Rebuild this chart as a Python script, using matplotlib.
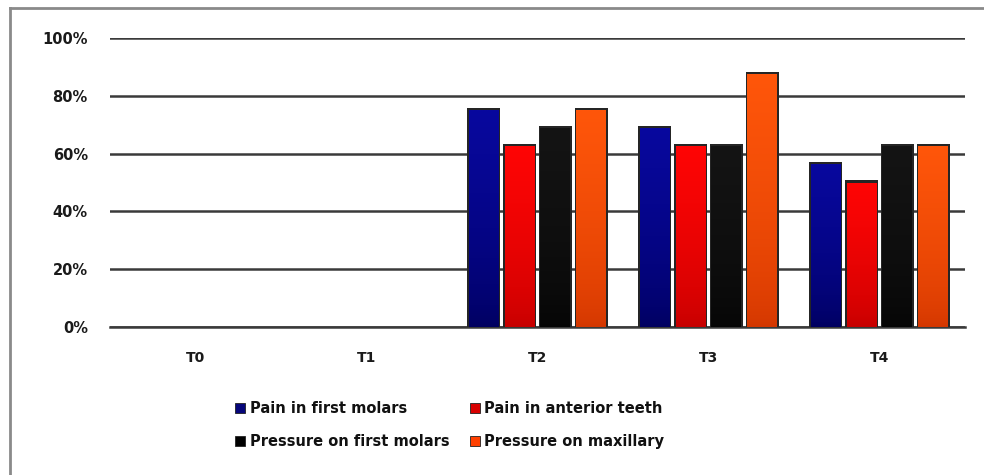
import numpy as np
import matplotlib
matplotlib.use("Agg")
import matplotlib.pyplot as plt
from matplotlib.colors import LinearSegmentedColormap
from matplotlib.patches import Rectangle
from matplotlib.lines import Line2D

categories = ["T0", "T1", "T2", "T3", "T4"]
series_names = ["Pain in first molars", "Pain in anterior teeth",
                "Pressure on first molars", "Pressure on maxillary"]
pain_first_molars = [0, 0, 75.0, 68.75, 56.25]
pain_anterior = [0, 0, 62.5, 62.5, 50.0]
pressure_first_molars = [0, 0, 68.75, 62.5, 62.5]
pressure_maxillary = [0, 0, 75.0, 87.5, 62.5]
yticks = [0, 20, 40, 60, 80, 100]

series = [pain_first_molars, pain_anterior, pressure_first_molars, pressure_maxillary]
# (top colour, bottom colour) for the vertical gradient of each series
grads = [("#08089e", "#00005e"), ("#ff0505", "#c40000"),
         ("#141414", "#050505"), ("#ff560a", "#d23600")]
legend_colors = ["#06067a", "#d80000", "#000000", "#ff4000"]

fig = plt.figure(figsize=(9.84, 4.75), dpi=100)
ax = fig.add_axes([110/984, 1-327/475, 855/984, 289/475])

x = np.arange(len(categories))
bw = 0.175
step = 0.21
offsets = (np.arange(4) - 1.5) * step

grad = np.linspace(0, 1, 256).reshape(-1, 1) ** 0.6
for i, vals in enumerate(series):
    cmap = LinearSegmentedColormap.from_list(f"g{i}", [grads[i][1], grads[i][0]])
    for xi, v in zip(x, vals):
        if v <= 0:
            continue
        left = xi + offsets[i] - bw/2
        # dark shadow outline
        shadow = Rectangle((left - 0.007, 0), bw + 0.014, v + 0.7,
                           facecolor="#252525", edgecolor="none", zorder=3)
        ax.add_patch(shadow)
        bar = ax.bar(xi + offsets[i], v, width=bw, color=grads[i][0],
                     edgecolor="none", zorder=4)[0]
        im = ax.imshow(grad, extent=(left, left + bw, 0, v), origin="lower",
                       cmap=cmap, aspect="auto", zorder=5,
                       interpolation="bilinear", vmin=0, vmax=1)
        im.set_clip_path(bar)

ax.set_xlim(-0.5, len(categories) - 0.5)
ax.set_ylim(0, 100)
ax.set_yticks(yticks)
ax.set_yticklabels([f"{t}%" for t in yticks])
ax.set_xticks(x)
ax.set_xticklabels(categories)
ax.yaxis.grid(True, color="#3a3a3a", linewidth=1.8, zorder=1)
ax.set_axisbelow(True)
for s in ax.spines.values():
    s.set_visible(False)
ax.tick_params(axis="both", length=0, colors="#1a1a1a")
ax.tick_params(axis="y", pad=16, labelsize=10.5)
ax.tick_params(axis="x", pad=17, labelsize=10)
for lab in ax.get_xticklabels() + ax.get_yticklabels():
    lab.set_fontweight("bold")
ax.axhline(0, color="#3a3a3a", linewidth=1.8, zorder=2, clip_on=False)

# legend filled row by row
order = [0, 2, 1, 3]
handles = [Rectangle((0, 0), 1, 1, facecolor=legend_colors[k], edgecolor="#222222",
                     linewidth=0.6) for k in order]
labels = [series_names[k] for k in order]
leg = fig.legend(handles, labels, ncol=2, loc="upper left",
                 bbox_to_anchor=(222/984, 1-388/475), frameon=False,
                 prop={"weight": "bold", "size": 10.5},
                 handlelength=0.7, handleheight=0.7, handletextpad=0.3,
                 columnspacing=1.4, labelspacing=1.25)
for t in leg.get_texts():
    t.set_color("#111111")

# outer frame lines
fig.add_artist(Line2D([10/984, 1.0], [1-8/475, 1-8/475], color="#8a8a8a",
                      linewidth=2, transform=fig.transFigure))
fig.add_artist(Line2D([10/984, 10/984], [0, 1-8/475], color="#8a8a8a",
                      linewidth=2, transform=fig.transFigure))

fig.savefig("out.png", dpi=100)
